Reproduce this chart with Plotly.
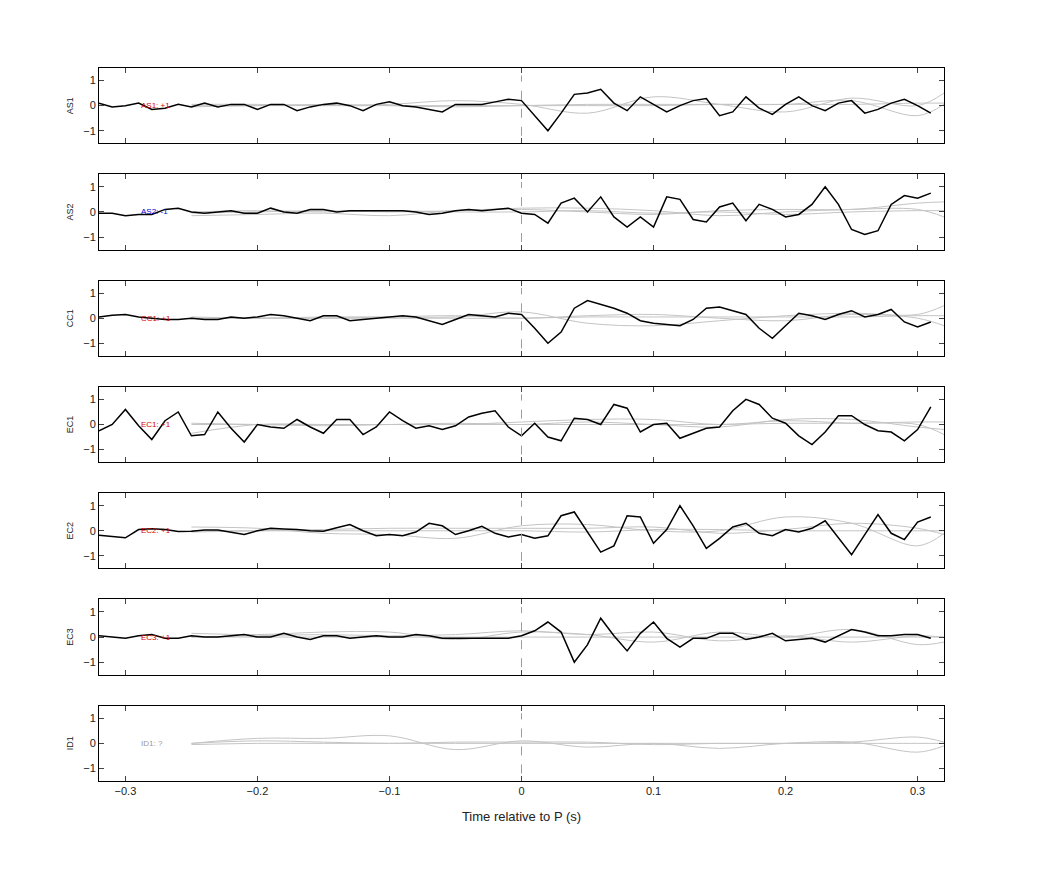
import plotly.graph_objects as go
from plotly.subplots import make_subplots

# sample times of the black traces (s)
t = [round(-0.32 + 0.01 * i, 2) for i in range(64)]
# sample times of the grey reference traces
tg = [-0.25, -0.2, -0.15, -0.1, -0.05, 0.0, 0.05, 0.1, 0.15, 0.2, 0.25, 0.3, 0.32]

stations = ["AS1", "AS2", "CC1", "EC1", "EC2", "EC3", "ID1"]
labels = ["AS1: +1", "AS2: -1", "CC1: +1", "EC1: +1", "EC2: +1", "EC3: +1", "ID1: ?"]
label_colors = ["#d40000", "#0000cc", "#d40000", "#d40000", "#d40000", "#d40000", "#999999"]

as1 = [0.1, -0.05, 0.0, 0.1, -0.15, -0.1, 0.05, -0.05, 0.1, -0.05, 0.05, 0.05, -0.15, 0.05,
       0.05, -0.2, -0.05, 0.05, 0.1, 0.0, -0.2, 0.05, 0.15, 0.0, -0.05, -0.15, -0.25, 0.05,
       0.05, 0.05, 0.15, 0.25, 0.2, -0.4, -1.0, -0.3, 0.45, 0.5, 0.65, 0.1, -0.2, 0.35, 0.05,
       -0.25, 0.0, 0.2, 0.28, -0.4, -0.25, 0.35, -0.1, -0.35, 0.05, 0.35, 0.0, -0.2, 0.1,
       0.2, -0.3, -0.15, 0.1, 0.25, 0.0, -0.3]
as2 = [-0.05, -0.05, -0.15, -0.1, -0.1, 0.1, 0.15, 0.0, -0.05, 0.0, 0.05, -0.05, -0.05, 0.15,
       0.0, -0.05, 0.1, 0.1, 0.0, 0.05, 0.05, 0.05, 0.05, 0.05, 0.0, -0.1, -0.05, 0.05, 0.1,
       0.05, 0.1, 0.15, -0.05, -0.1, -0.45, 0.35, 0.55, 0.0, 0.6, -0.2, -0.6, -0.2, -0.6, 0.6,
       0.5, -0.3, -0.4, 0.2, 0.35, -0.35, 0.3, 0.1, -0.2, -0.1, 0.3, 1.0, 0.3, -0.7, -0.9,
       -0.75, 0.3, 0.65, 0.55, 0.75]
cc1 = [0.05, 0.12, 0.15, 0.05, 0.0, -0.05, -0.05, 0.0, -0.05, -0.05, 0.05, 0.0, 0.05, 0.15,
       0.1, 0.0, -0.1, 0.1, 0.1, -0.1, -0.05, 0.0, 0.05, 0.1, 0.05, -0.1, -0.25, -0.05, 0.15,
       0.1, 0.05, 0.2, 0.15, -0.4, -1.0, -0.55, 0.4, 0.7, 0.55, 0.4, 0.2, -0.1, -0.2, -0.25,
       -0.3, -0.05, 0.4, 0.45, 0.3, 0.15, -0.4, -0.8, -0.3, 0.2, 0.1, -0.05, 0.15, 0.3, 0.05,
       0.15, 0.35, -0.15, -0.35, -0.15]
ec1 = [-0.25, 0.0, 0.6, -0.05, -0.6, 0.15, 0.5, -0.45, -0.4, 0.5, -0.15, -0.7, 0.0, -0.1,
       -0.15, 0.2, -0.1, -0.35, 0.2, 0.2, -0.4, -0.1, 0.5, 0.15, -0.15, -0.05, -0.2, -0.05,
       0.3, 0.45, 0.55, -0.1, -0.45, 0.05, -0.5, -0.65, 0.25, 0.2, 0.0, 0.8, 0.65, -0.3, 0.0,
       0.05, -0.55, -0.35, -0.15, -0.1, 0.55, 1.0, 0.8, 0.25, 0.05, -0.45, -0.8, -0.3, 0.35,
       0.35, 0.0, -0.25, -0.3, -0.65, -0.2, 0.7]
ec2 = [-0.18, -0.22, -0.28, 0.05, 0.08, 0.05, -0.03, -0.02, 0.03, 0.03, -0.05, -0.15, 0.0,
       0.1, 0.07, 0.05, 0.0, -0.02, 0.12, 0.25, 0.0, -0.2, -0.15, -0.2, -0.05, 0.3, 0.2,
       -0.15, 0.0, 0.18, -0.1, -0.25, -0.15, -0.3, -0.2, 0.6, 0.75, -0.05, -0.85, -0.6, 0.6,
       0.55, -0.5, 0.05, 1.0, 0.2, -0.7, -0.3, 0.15, 0.3, -0.1, -0.2, 0.05, -0.05, 0.1, 0.4,
       -0.3, -0.95, -0.15, 0.65, -0.1, -0.35, 0.35, 0.55]
ec3 = [0.05, 0.0, -0.05, 0.05, 0.1, -0.05, -0.05, 0.05, 0.0, 0.0, 0.05, 0.1, 0.0, 0.0, 0.15,
       0.0, -0.1, 0.05, 0.05, -0.05, 0.0, 0.05, 0.0, 0.0, 0.1, 0.05, -0.05, -0.05, -0.05,
       -0.05, -0.05, -0.05, 0.05, 0.25, 0.6, 0.2, -1.0, -0.3, 0.75, 0.05, -0.55, 0.15, 0.6,
       -0.05, -0.4, -0.05, -0.05, 0.15, 0.15, -0.1, 0.0, 0.15, -0.15, -0.1, -0.05, -0.2, 0.05,
       0.3, 0.2, 0.05, 0.05, 0.1, 0.1, -0.05]
black = [as1, as2, cc1, ec1, ec2, ec3, None]

grey = [
    [[-0.05, 0, 0, 0.05, 0.2, 0.05, -0.3, 0.35, 0.05, -0.25, 0.3, 0.0, 0.5],
     [0.05, 0.05, 0, 0, 0, 0, 0, 0, 0.05, 0.05, 0.2, -0.4, 0.05],
     [0, 0, 0.05, 0, -0.05, 0, 0.05, 0.05, 0.05, 0.05, 0.05, 0.1, 0.1]],
    [[-0.15, -0.1, -0.05, -0.15, 0.05, 0.1, 0.0, -0.1, 0.05, 0.1, 0.1, 0.35, 0.4],
     [-0.05, 0, 0.05, 0, 0.05, 0.15, 0.15, 0.05, -0.15, 0.0, 0.1, 0.1, -0.2],
     [0, 0.05, 0, 0.05, 0, 0, 0.05, -0.05, 0, -0.1, 0, 0.05, 0.05]],
    [[0, 0, 0.05, 0.05, 0.05, 0.25, -0.2, -0.3, -0.1, 0.1, 0.2, 0.15, 0.5],
     [0.05, 0, 0, 0.05, 0.1, 0, 0.1, 0.15, 0, -0.1, 0.15, 0.0, -0.3],
     [0, 0, 0, 0, 0, 0, 0.05, 0.05, 0.05, 0.05, 0.05, 0.1, 0.1]],
    [[-0.35, 0, 0, 0, 0, 0.1, 0.2, 0.2, 0.0, 0.15, 0.05, 0.0, -0.4],
     [0.05, 0, -0.05, 0, 0.05, 0, 0.1, 0, -0.1, 0.2, 0.2, -0.1, -0.2],
     [0, 0, 0, 0, 0, 0, 0, 0, 0, 0.05, 0.05, 0.1, 0.1]],
    [[0.15, 0.1, -0.1, -0.15, -0.3, 0.2, 0.25, 0.0, 0.0, 0.55, 0.3, -0.6, -0.1],
     [-0.05, 0, 0.05, 0.1, 0.1, 0.1, 0.1, 0.15, -0.1, 0.05, 0.3, 0.1, -0.15],
     [0, 0, 0, 0, 0, 0, -0.05, 0.05, 0.05, 0, 0, 0, 0]],
    [[0.15, 0.1, 0.2, 0.2, -0.1, 0.2, 0.1, -0.2, 0.2, 0.0, 0.3, -0.3, -0.2],
     [0, 0.05, 0.1, 0.05, 0.1, 0.25, 0.1, 0.2, -0.15, 0.05, -0.2, 0.05, 0.0],
     [0, 0, 0, 0, 0, 0, 0, 0, 0, 0, 0, 0, 0]],
    [[0, 0.2, 0.2, 0.3, -0.25, 0.1, -0.15, 0.0, -0.2, 0.0, 0.05, -0.35, -0.1],
     [0, 0.1, 0.05, 0, 0.05, 0.05, 0.05, -0.05, 0, 0, 0.05, 0.25, 0.05],
     [-0.05, 0, 0, 0, 0, 0, 0, 0, 0, 0, 0, 0, 0]],
]

n = len(stations)
fig = make_subplots(rows=n, cols=1, shared_xaxes=True, vertical_spacing=0.0435)
font = dict(family="Liberation Sans, Arial, sans-serif", size=11, color="#222")

for i in range(n):
    r = i + 1
    for g in grey[i]:
        fig.add_trace(go.Scatter(x=tg, y=g, mode="lines", line_shape="spline",
                                 line=dict(color="#c4c4c4", width=1), showlegend=False,
                                 hoverinfo="skip"), row=r, col=1)
    if black[i] is not None:
        fig.add_trace(go.Scatter(x=t, y=black[i], mode="lines",
                                 line=dict(color="black", width=1.5), showlegend=False),
                      row=r, col=1)
    fig.add_shape(type="line", x0=0, x1=0, y0=-1.2, y1=1.2, row=r, col=1,
                  line=dict(color="#e08080", width=1, dash="dash"))
    fig.add_annotation(x=-0.29, y=0, text=labels[i], showarrow=False, xanchor="left",
                       font=dict(size=8, color=label_colors[i]), row=r, col=1)
    fig.update_yaxes(title_text=stations[i], row=r, col=1)

fig.update_xaxes(range=[-0.32, 0.32], tickvals=[-0.3, -0.2, -0.1, 0, 0.1, 0.2, 0.3],
                 ticks="inside", ticklen=5, showline=True, mirror="ticks", linecolor="black",
                 linewidth=1, showgrid=False, zeroline=False)
fig.update_xaxes(title_text="Time relative to P (s)", row=n, col=1)
fig.update_yaxes(range=[-1.5, 1.5], tickvals=[-1, 0, 1], ticks="inside", ticklen=5,
                 showline=True, mirror="ticks", linecolor="black", linewidth=1,
                 showgrid=False, zeroline=False, title_font=dict(size=9), title_standoff=8)
fig.update_layout(width=1042, height=875, plot_bgcolor="white", paper_bgcolor="white",
                  margin=dict(l=91, r=106, t=60, b=102), font=font, showlegend=False)
fig.write_html("out.html")
